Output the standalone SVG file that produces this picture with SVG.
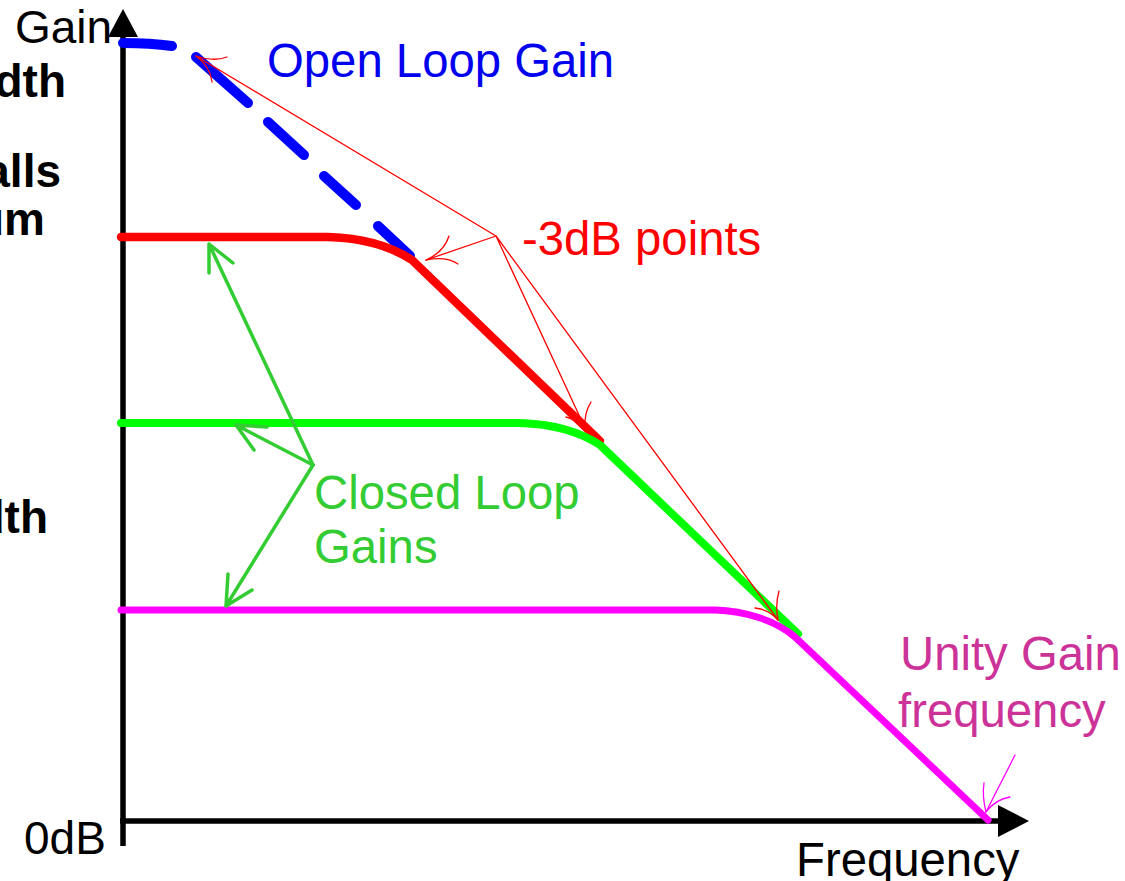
<svg xmlns="http://www.w3.org/2000/svg" width="1125" height="881" viewBox="0 0 1125 881">
  <style>
    text { font-family: "Liberation Sans", Arial, sans-serif; font-size: 46px; }
    .lbl { font-size: 47.3px; }
    .bold { font-weight: bold; fill: #000; }
    .axis { stroke: #000; stroke-width: 5.5; fill: none; }
    .curve { fill: none; stroke-linecap: round; stroke-linejoin: round; }
    .thin { fill: none; stroke-width: 1.3; stroke-linecap: round; }
    .garrow { fill: none; stroke: #33cc33; stroke-width: 3.5; stroke-linecap: round; stroke-linejoin: round; }
  </style>
  <rect width="1125" height="881" fill="#fff"/>

  <!-- side text running off the left edge -->
  <g id="side-text">
    <text class="bold" x="66" y="97" text-anchor="end">dth</text>
    <text class="bold" x="61" y="187" text-anchor="end">alls</text>
    <text class="bold" x="45" y="235" text-anchor="end">um</text>
    <text class="bold" x="48" y="533" text-anchor="end">dth</text>
  </g>

  <!-- axes -->
  <g id="axes">
    <line class="axis" x1="123" y1="36" x2="123" y2="846"/>
    <line class="axis" x1="120" y1="821" x2="1000" y2="821"/>
    <polygon points="123,9 108,37 138,37" fill="#000"/>
    <polygon points="1029,821 998,805 998,837" fill="#000"/>
    <text x="15" y="43">Gain</text>
    <text x="24" y="854">0dB</text>
    <text class="lbl" x="796" y="876">Frequency</text>
  </g>

  <!-- open loop response (dashed) -->
  <g id="open-loop">
    <path class="curve" stroke="#0000ff" stroke-width="10"
          d="M123,43 Q150,43 172,46 M196,57 L248,103 M268,122 L304,155 M324,176 L356,205 M378,226 L410,256"/>
    <text class="lbl" x="267" y="77" fill="#0000ee">Open Loop Gain</text>
  </g>

  <!-- closed loop responses -->
  <g id="closed-loop-high">
    <path class="curve" stroke="#ff0000" stroke-width="8.5"
          d="M121,237 L328,237 C365,238 392,247 412,260 L600,441"/>
  </g>
  <g id="closed-loop-mid">
    <path class="curve" stroke="#00ff00" stroke-width="8"
          d="M121,423 L520,423 C555,424 580,432 600,445 L798,634"/>
  </g>
  <g id="closed-loop-low">
    <path class="curve" stroke="#ff00ff" stroke-width="7"
          d="M121,610 L715,610 C745,611 775,620 795,637 L988,820"/>
  </g>

  <!-- labels -->
  <g id="label-3db">
    <text class="lbl" x="522" y="255" fill="#ff0000">-3dB points</text>
  </g>
  <g id="label-closed-loop">
    <text class="lbl" x="314" y="509" fill="#33cc33">Closed Loop</text>
    <text class="lbl" x="314" y="563" fill="#33cc33">Gains</text>
  </g>
  <g id="label-unity">
    <text class="lbl" x="900" y="670" fill="#cc3399">Unity Gain</text>
    <text class="lbl" x="898" y="727" fill="#cc3399">frequency</text>
  </g>

  <!-- pointer connectors -->
  <g id="connectors">
    <!-- -3dB pointers -->
    <g stroke="#ff0000" class="thin">
      <path d="M496,236 L196,56 M496,236 L426,260 M496,236 L585,428 M496,236 L778,620"/>
      <path d="M196,56 Q214,62 227,57 M196,56 Q210,66 212,82"/>
      <path d="M426,260 Q444,252 449,236 M426,260 Q446,256 458,264"/>
      <path d="M585,428 Q584,413 591,402 M585,428 Q575,419 566,417"/>
      <path d="M778,620 Q775,605 779,591 M778,620 Q768,609 755,608"/>
    </g>
    <!-- unity gain pointer -->
    <g stroke="#ff00ff" class="thin">
      <path d="M1015,755 L986,812"/>
      <path d="M986,812 Q982,796 984,783 M986,812 Q996,799 1010,797"/>
    </g>
    <!-- closed loop gain pointers -->
    <g class="garrow">
      <path d="M313,465 L209,244 M209,273 L209,244 L233,263"/>
      <path d="M313,465 L236,425 M267,427 L236,425 L254,450"/>
      <path d="M313,465 L226,606 M228,574 L226,606 L252,590"/>
    </g>
  </g>
</svg>
